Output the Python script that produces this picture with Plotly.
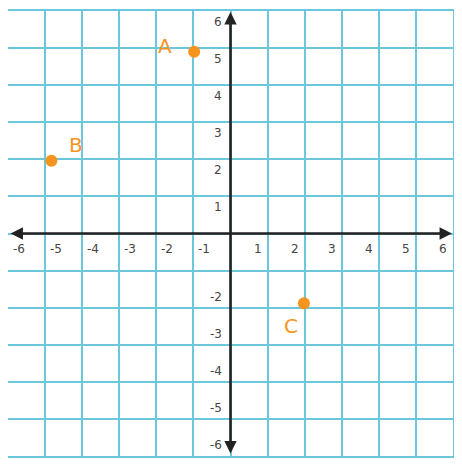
import plotly.graph_objects as go

# Data
point_names = ["A", "B", "C"]
point_x = [-0.98, -4.83, 1.98]
point_y = [4.9, 1.96, -1.88]
x_ticks = [-6, -5, -4, -3, -2, -1, 1, 2, 3, 4, 5, 6]
y_ticks = [-6, -5, -4, -3, -2, 1, 2, 3, 4, 5, 6]

ORANGE = "#f7941d"
GRID = "#6cc6dc"
AXIS = "#222222"
TICKC = "#444444"

fig = go.Figure()
fig.add_trace(go.Scatter(x=point_x, y=point_y, mode="markers",
                         marker=dict(size=12, color=ORANGE), hoverinfo="skip",
                         showlegend=False))

ann = []
# point labels
label_shift = {"A": (-29, 6), "B": (25, 16), "C": (-13, -23)}
for n, x, y in zip(point_names, point_x, point_y):
    dx, dy = label_shift[n]
    ann.append(dict(x=x, y=y, text=n, showarrow=False, xshift=dx, yshift=dy,
                    font=dict(size=20, color=ORANGE, family="DejaVu Sans")))
# axes with arrows
ann.append(dict(x=5.97, y=0, ax=-5.97, ay=0, xref="x", yref="y", axref="x", ayref="y",
                showarrow=True, arrowhead=2, arrowside="end+start", arrowsize=0.95,
                arrowwidth=2.6, arrowcolor=AXIS, text=""))
ann.append(dict(x=0, y=5.97, ax=0, ay=-5.97, xref="x", yref="y", axref="x", ayref="y",
                showarrow=True, arrowhead=2, arrowside="end+start", arrowsize=0.95,
                arrowwidth=2.6, arrowcolor=AXIS, text=""))
# tick labels
for t in x_ticks:
    ann.append(dict(x=t, y=0, text=str(t), showarrow=False,
                    xshift=(11 if t < 0 else -10), yshift=-15,
                    font=dict(size=12, color=TICKC, family="DejaVu Sans")))
for t in y_ticks:
    ann.append(dict(x=0, y=t, text=str(t), showarrow=False, xanchor="right",
                    xshift=-7, yshift=(-11 if t > 0 else 11),
                    font=dict(size=12, color=TICKC, family="DejaVu Sans")))

axis_common = dict(range=[-6, 6], dtick=1, tick0=0, showgrid=True, gridcolor=GRID,
                   gridwidth=2, zeroline=False, showticklabels=False, ticks="",
                   showline=True, linecolor=GRID, linewidth=2, mirror=True,
                   fixedrange=True)
fig.update_layout(
    width=454, height=459,
    margin=dict(l=0, r=9, t=3, b=11),
    paper_bgcolor="white", plot_bgcolor="white",
    xaxis=axis_common, yaxis=axis_common,
    annotations=ann,
)
fig.write_html("out.html")
